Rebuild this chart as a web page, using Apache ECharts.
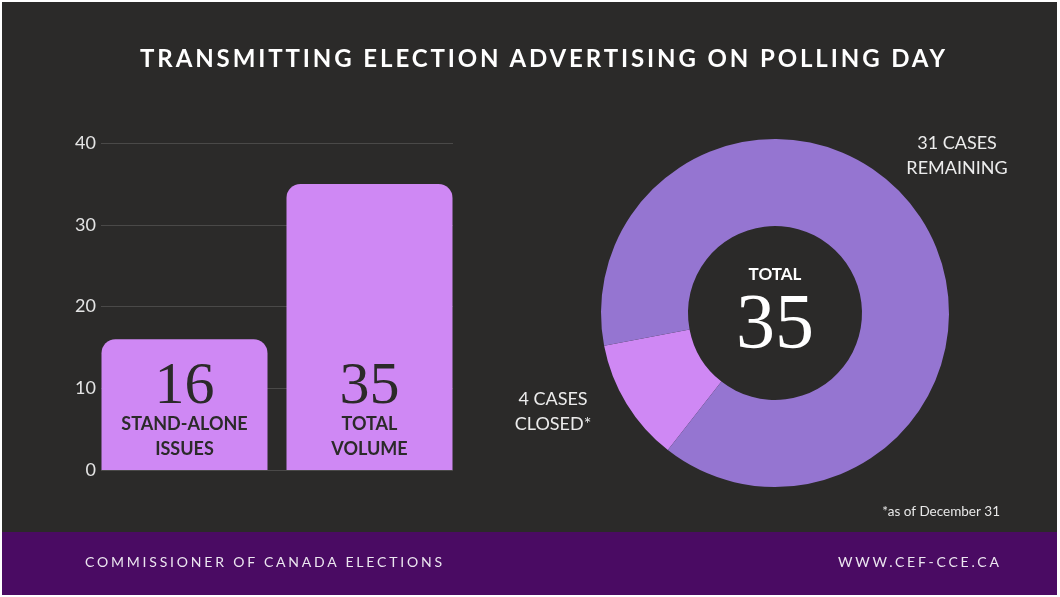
<!DOCTYPE html>
<html>
<head>
<meta charset="utf-8">
<script src="https://cdn.jsdelivr.net/npm/echarts@6/dist/echarts.min.js"></script>
<style>
  html, body { margin: 0; padding: 0; background: #fff; }
  #chart { position: absolute; left: 0; top: 0; width: 1060px; height: 597px; }
  .cap { position: absolute; white-space: nowrap; font-family: Lato, "Noto Sans", sans-serif; line-height: 1; z-index: 2; }
  #title { left: 140px; top: 46px; font-size: 24px; font-weight: 700; letter-spacing: 2.9px; color: #ffffff; }
  #org { left: 85px; top: 555px; font-size: 14px; letter-spacing: 2.8px; color: #ece6f0; }
  #web { left: 838px; top: 555px; font-size: 14px; letter-spacing: 2.8px; color: #ece6f0; }
</style>
</head>
<body>
<div id="chart"></div>
<div class="cap" id="title">TRANSMITTING ELECTION ADVERTISING ON POLLING DAY</div>
<div class="cap" id="org">COMMISSIONER OF CANADA ELECTIONS</div>
<div class="cap" id="web">WWW.CEF-CCE.CA</div>
<script>
// Bar chart: counts of files
const barCategories = ['STAND-ALONE\nISSUES', 'TOTAL\nVOLUME'];
const barValues = [16, 35];
const yTicks = [0, 10, 20, 30, 40];

// Donut: status of the cases
const caseNames = ['CLOSED*', 'REMAINING'];
const caseValues = [4, 31];

const footnote = '*as of December 31';

const BG = '#2b2a29';
const LILAC = '#cf88f4';
const PURPLE = '#9575d1';
const total = caseValues.reduce((a, b) => a + b, 0);

const chart = echarts.init(document.getElementById('chart'), null, { renderer: 'canvas' });

const yBase = {
  min: yTicks[0],
  max: yTicks[yTicks.length - 1],
  interval: yTicks[1] - yTicks[0]
};

chart.setOption({
  animation: false,
  backgroundColor: '#ffffff',
  grid: [
    { left: 101, right: 607, top: 143, bottom: 127 },
    { left: 92, right: 598, top: 143, bottom: 127 }
  ],
  xAxis: [
    { gridIndex: 0, type: 'category', data: barCategories, show: false },
    { gridIndex: 1, type: 'category', data: barCategories, show: false }
  ],
  yAxis: [
    Object.assign({
      gridIndex: 0, type: 'value',
      axisLine: { show: false }, axisTick: { show: false },
      axisLabel: { color: '#e4e4e4', fontFamily: 'Lato', fontSize: 18, margin: 5 },
      splitLine: { lineStyle: { color: '#4a4948', width: 1 } }
    }, yBase),
    Object.assign({ gridIndex: 1, type: 'value', show: false, splitLine: { show: false } }, yBase)
  ],
  graphic: [
    { type: 'rect', z: -100, shape: { x: 2, y: 2, width: 1055, height: 593 }, style: { fill: BG } },
    { type: 'rect', z: -99, shape: { x: 2, y: 532, width: 1055, height: 63 }, style: { fill: '#4a0b63' } },
    { type: 'text', x: 775, y: 275, style: { text: 'TOTAL', fill: '#ffffff', font: 'bold 17px Lato', align: 'center', verticalAlign: 'middle' } },
    { type: 'text', x: 775, y: 327, style: { text: String(total), fill: '#ffffff', font: '78px "Liberation Serif"', align: 'center', verticalAlign: 'middle' } },
    { type: 'text', x: 1000, y: 512, style: { text: footnote, fill: '#e8e8e8', font: '13.5px Lato', align: 'right', verticalAlign: 'middle' } }
  ],
  series: [
    {
      type: 'bar',
      xAxisIndex: 1, yAxisIndex: 1,
      data: barValues,
      barWidth: 166,
      silent: true,
      itemStyle: { color: LILAC, borderRadius: [14, 14, 0, 0] },
      label: {
        show: true,
        position: 'insideBottom',
        distance: 8,
        formatter: p => ['{v|' + p.value + '}'].concat(p.name.split('\n').map(s => '{t|' + s + '}')).join('\n'),
        rich: {
          v: { fontFamily: 'Liberation Serif', fontSize: 60, color: BG, lineHeight: 50 },
          t: { fontFamily: 'Lato', fontWeight: 'bold', fontSize: 18, color: BG, lineHeight: 25 }
        }
      }
    },
    {
      type: 'pie',
      center: [775, 313],
      radius: [87, 174],
      startAngle: 232,
      silent: true,
      emphasis: { disabled: true },
      data: caseNames.map((n, i) => ({
        name: n, value: caseValues[i],
        itemStyle: { color: i === 0 ? LILAC : PURPLE }
      })),
      label: {
        show: true,
        position: 'outside',
        overflow: 'none',
        formatter: p => p.value + ' CASES\n' + p.name,
        fontFamily: 'Lato', fontSize: 18, color: '#ececec', lineHeight: 25
      },
      labelLine: { show: false },
      labelLayout: p => p.dataIndex === 0
        ? { x: 553, y: 412, align: 'center', verticalAlign: 'middle' }
        : { x: 957, y: 156, align: 'center', verticalAlign: 'middle', width: 160 }
    }
  ]
});
</script>
</body>
</html>
